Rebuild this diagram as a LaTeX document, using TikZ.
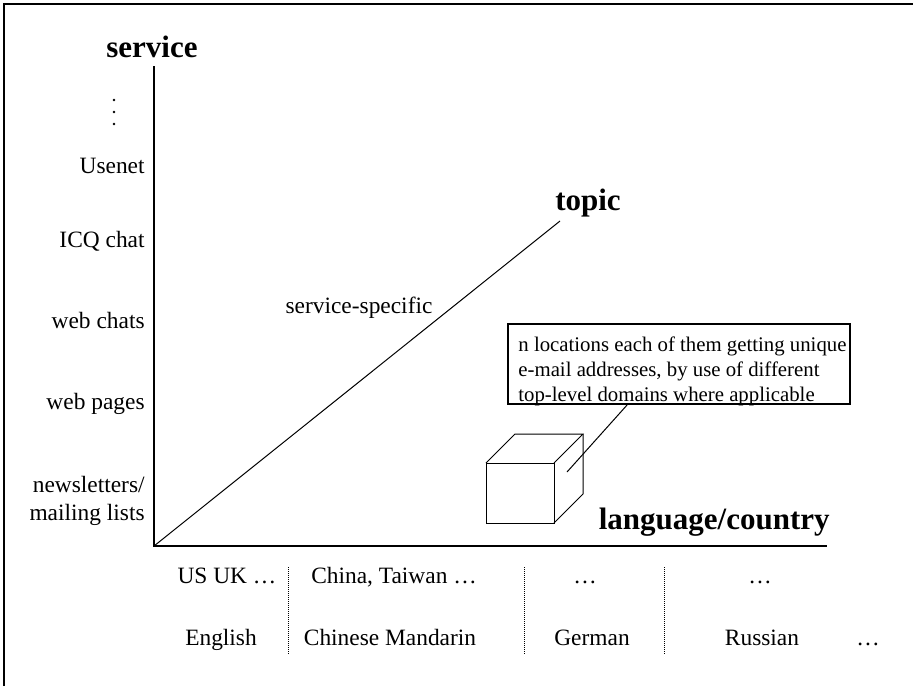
\documentclass[tikz,border=0pt]{standalone}
\usepackage{fontspec}
\setmainfont{Liberation Serif}
\usetikzlibrary{calc}
\begin{document}
\begin{tikzpicture}[x=0.5pt,y=-0.5pt,
  lbl/.style={font=\fontsize{11.7}{14}\selectfont, inner sep=0pt},
  axislbl/.style={font=\fontsize{15.5}{18}\selectfont\bfseries, inner sep=0pt},
  axisline/.style={line width=1pt},
  thinline/.style={line width=0.5pt},
  divider/.style={line width=0.5pt, dash pattern=on 0.5pt off 0.5pt},
  notebox/.style={draw, line width=1pt, minimum width=171pt,
    minimum height=40pt, inner sep=0pt},
  notetext/.style={inner sep=0pt, align=left,
    font=\fontsize{10.4}{12.5}\selectfont},
  dotmark/.style={fill, circle, inner sep=0pt, minimum size=1.3pt},
]
\useasboundingbox (0,0) rectangle (913,686);

% frame (top and left edges)
\draw[axisline] (4,686) -- (4,4) -- (913,4);

% axes
\coordinate (O) at (154,546);
\coordinate (ytop) at (154,66);
\coordinate (xend) at (827,546);
\coordinate (ztop) at (560,221);
\draw[axisline] (ytop) -- (O) -- (xend);
\draw[thinline] (O) -- (ztop);

% axis titles
\node[axislbl, anchor=base] (service) at (152,57) {service};
\node[axislbl, anchor=base] (topic) at (588,210) {topic};
\node[axislbl, anchor=base east] (langc) at (830,529) {language/country};
\node[lbl, anchor=base] (spec) at (359,313) {service-specific};

% service categories (vertical ellipsis above the list)
\foreach \y/\n in {100/v1, 112/v2, 124/v3}
  \node[dotmark] (\n) at (114,\y) {};
\node[lbl, anchor=base east] (usenet) at (145,173) {Usenet};
\node[lbl, anchor=base east] (icq) at (145,247) {ICQ chat};
\node[lbl, anchor=base east] (webchats) at (145,328) {web chats};
\node[lbl, anchor=base east] (webpages) at (145,409) {web pages};
\node[lbl, anchor=base east] (news) at (145,492) {newsletters/};
\node[lbl, anchor=base east] (mailing) at (145,520) {mailing lists};

% annotation box and its text
\node[notebox] (note) at (679,364) {};
\node[notetext, anchor=north west] (notetxt) at (518,336) {n locations each of them getting unique\\
e-mail addresses, by use of different\\
top-level domains where applicable};

% cube
\coordinate (fa) at (486,463);
\coordinate (fb) at (554,463);
\coordinate (fc) at (554,523);
\coordinate (fd) at (486,523);
\coordinate (ba) at (515,434);
\coordinate (bb) at (583,434);
\coordinate (bc) at (583,494);
\draw[thinline] (fa) rectangle (fc);
\draw[thinline] (fa) -- (ba) -- (bb) -- (fb);
\draw[thinline] (bb) -- (bc) -- (fc);

% leader from the note into the cube
\coordinate (pin) at (567,472);
\draw[thinline] ($(note.south west)!0.349!(note.south east)$) -- (pin);

% column dividers
\foreach \x/\n in {288/d1, 524/d2, 664/d3}{
  \coordinate (\n top) at (\x,567);
  \coordinate (\n bot) at (\x,654);
  \draw[divider] (\n top) -- (\n bot);
}

% countries
\node[lbl, anchor=base] (c1) at (227,583) {US UK …};
\node[lbl, anchor=base] (c2) at (394,583) {China, Taiwan …};
\node[lbl, anchor=base] (c3) at (585,583) {…};
\node[lbl, anchor=base] (c4) at (760,583) {…};

% languages
\node[lbl, anchor=base] (l1) at (221,645) {English};
\node[lbl, anchor=base] (l2) at (390,645) {Chinese Mandarin};
\node[lbl, anchor=base] (l3) at (592,645) {German};
\node[lbl, anchor=base] (l4) at (762,645) {Russian};
\node[lbl, anchor=base] (l5) at (868,645) {…};
\end{tikzpicture}
\end{document}
